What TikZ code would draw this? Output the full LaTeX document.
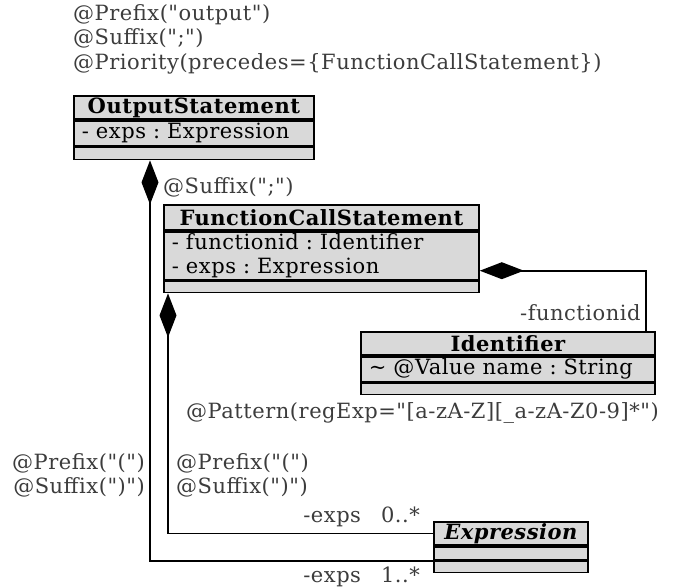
\documentclass[tikz,border=0pt]{standalone}
\usepackage{fontspec}
\setmainfont{DejaVu Serif}[Ligatures=TeXOff,LetterSpace=2.5]
\usetikzlibrary{arrows.meta,positioning}
\definecolor{umlgray}{RGB}{217,217,217}
\definecolor{notegray}{RGB}{60,60,60}
\frenchspacing

\begin{document}
\begin{tikzpicture}[x=1pt,y=-1pt,
    font=\fontsize{21}{24.5}\selectfont,
    cls/.style={draw,fill=umlgray,line width=1.8pt,inner xsep=8pt,inner ysep=0pt,
      anchor=north west,align=left},
    clshead/.style={draw,fill=umlgray,line width=1.8pt,inner sep=0pt,anchor=north west,
      font=\fontsize{21}{24.5}\selectfont\bfseries},
    note/.style={text=notegray,inner sep=0pt,align=left},
    comp/.style={line width=1.8pt,{Diamond[length=44pt,width=17pt]}-}]
  \useasboundingbox (0,0) rectangle (681,587) ;
  % classes
  \node[clshead,minimum width=240pt,minimum height=23pt] (os-head) at (73,95) {OutputStatement} ;
  \node[cls,text width=224pt,minimum height=25pt] (os-attr) at (os-head.south west) {- exps : Expression} ;
  \node[cls,text width=224pt,minimum height=12pt] (os-ops) at (os-attr.south west) {} ;
  \node[clshead,minimum width=315pt,minimum height=25pt] (fc-head) at (163,204) {FunctionCallStatement} ;
  \node[cls,text width=299pt,minimum height=48pt] (fc-attr) at (fc-head.south west) %
    {- functionid : Identifier\\- exps : Expression} ;
  \node[cls,text width=299pt,minimum height=11pt] (fc-ops) at (fc-attr.south west) {} ;
  \node[clshead,minimum width=294pt,minimum height=23pt] (id-head) at (360,331) {Identifier} ;
  \node[cls,text width=278pt,minimum height=25pt] (id-attr) at (id-head.south west) %
    {\mbox{\textasciitilde{} @Value name : String}} ;
  \node[cls,text width=278pt,minimum height=11pt] (id-ops) at (id-attr.south west) {} ;
  \node[clshead,minimum width=154pt,minimum height=23pt,font=\fontsize{21}{24.5}\selectfont\bfseries\itshape] %
    (ex-head) at (433,521) {Expression} ;
  \node[cls,text width=138pt,minimum height=13pt] (ex-ops1) at (ex-head.south west) {} ;
  \node[cls,text width=138pt,minimum height=11pt] (ex-ops2) at (ex-ops1.south west) {} ;
  % compositions
  \draw[comp] ([xshift=77pt]os-ops.south west) |- (ex-ops1.south west) ;
  \draw[comp] ([xshift=5pt]fc-ops.south west) |- (ex-head.west) ;
  \draw[comp] ([yshift=-15pt]fc-attr.east) -| ([xshift=-10pt]id-head.north east) ;
  % role names
  \node[note,anchor=east] (r-fid) at ([xshift=-15pt,yshift=18pt]id-head.north east) {-functionid} ;
  \node[note,anchor=east] (r-exps0) at ([xshift=-13pt,yshift=17pt]ex-head.west) {-exps\hspace{20pt}0..*} ;
  \node[note,anchor=east] (r-exps1) at ([xshift=-13pt,yshift=-16pt]ex-ops1.south west) {-exps\hspace{20pt}1..*} ;
  % annotations
  \node[note,anchor=north west] (a-os) at (73,4) %
    {@Prefix("output")\\@Suffix(";")\\@Priority(precedes=\{FunctionCallStatement\})} ;
  \node[note,anchor=base west] (a-fc) at (163,193) {@Suffix(";")} ;
  \node[note,anchor=base west] (a-id) at (186,418) {@Pattern(regExp="[a-zA-Z][\_a-zA-Z0-9]*")} ;
  \node[note,anchor=north east,align=right] (a-exps1) at (145,453) {@Prefix("(")\\@Suffix(")")} ;
  \node[note,anchor=north west] (a-exps0) at (176,453) {@Prefix("(")\\@Suffix(")")} ;
\end{tikzpicture}
\end{document}
